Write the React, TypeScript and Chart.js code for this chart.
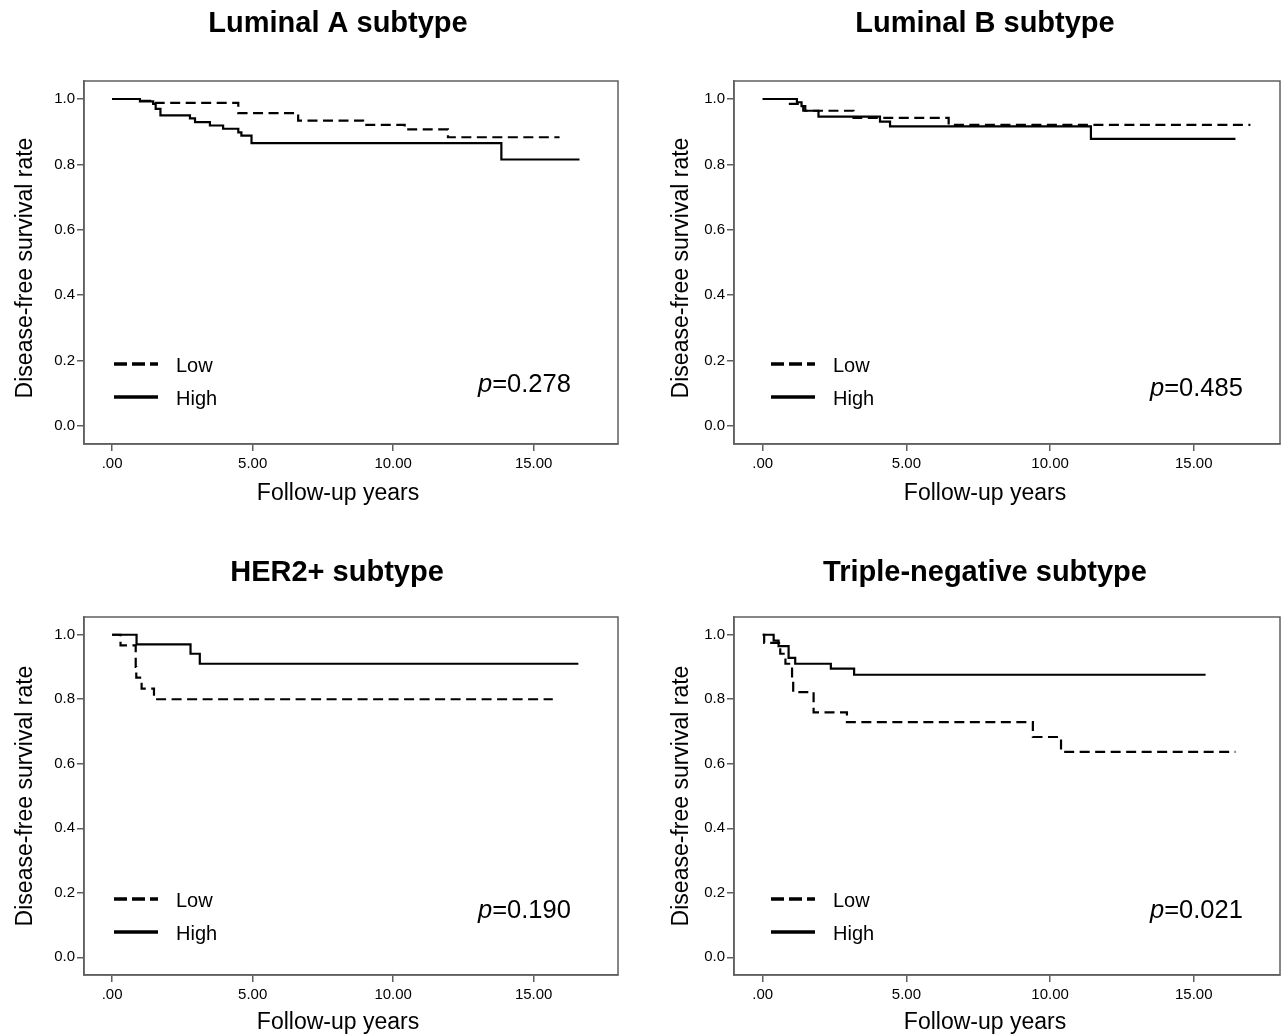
import React, { useEffect, useRef } from "react";
import { Chart, registerables } from "chart.js";

Chart.register(...registerables);

// ---------- data ----------
const xTickValues = [0, 5, 10, 15];
const yTickValues = [0, 0.2, 0.4, 0.6, 0.8, 1.0];
const seriesNames = ["Low", "High"];
const panelTitles = ["Luminal A subtype", "Luminal B subtype", "HER2+ subtype", "Triple-negative subtype"];
const pValues = ["0.278", "0.485", "0.190", "0.021"];
const xAxisTitle = "Follow-up years";
const yAxisTitle = "Disease-free survival rate";

// Luminal A
const lumALowYears = [0, 1.0, 1.46, 4.49, 6.62, 8.93, 10.41, 11.95, 15.92];
const lumALowRate = [1.0, 0.994, 0.988, 0.957, 0.934, 0.921, 0.907, 0.883, 0.883];
const lumAHighYears = [0, 0.99, 1.46, 1.55, 1.72, 2.77, 2.95, 3.48, 3.95, 4.49, 4.6, 4.96, 13.85, 16.63];
const lumAHighRate = [1.0, 0.993, 0.985, 0.97, 0.95, 0.941, 0.929, 0.919, 0.909, 0.898, 0.888, 0.865, 0.815, 0.815];

// Luminal B
const lumBLowYears = [0, 0.9, 1.41, 3.16, 6.47, 16.97];
const lumBLowRate = [1.0, 0.985, 0.964, 0.942, 0.921, 0.921];
const lumBHighYears = [0, 1.19, 1.35, 1.48, 1.94, 4.08, 4.43, 11.42, 16.45];
const lumBHighRate = [1.0, 0.99, 0.978, 0.964, 0.946, 0.931, 0.916, 0.878, 0.878];

// HER2+
const her2LowYears = [0, 0.3, 0.84, 0.86, 1.05, 1.49, 15.68];
const her2LowRate = [1.0, 0.967, 0.9, 0.867, 0.833, 0.8, 0.8];
const her2HighYears = [0, 0.87, 2.79, 3.12, 16.59];
const her2HighRate = [1.0, 0.97, 0.941, 0.91, 0.91];

// Triple-negative
const tnLowYears = [0, 0.05, 0.61, 0.79, 1.02, 1.06, 1.77, 2.93, 9.4, 10.38, 16.45];
const tnLowRate = [1.0, 0.975, 0.941, 0.91, 0.864, 0.822, 0.759, 0.729, 0.683, 0.637, 0.637];
const tnHighYears = [0, 0.38, 0.55, 0.9, 1.13, 2.37, 3.18, 15.41];
const tnHighRate = [1.0, 0.982, 0.965, 0.928, 0.91, 0.895, 0.876, 0.876];

const panelSeries = [
  [lumALowYears, lumALowRate, lumAHighYears, lumAHighRate],
  [lumBLowYears, lumBLowRate, lumBHighYears, lumBHighRate],
  [her2LowYears, her2LowRate, her2HighYears, her2HighRate],
  [tnLowYears, tnLowRate, tnHighYears, tnHighRate],
];

// ---------- layout (page coordinates) ----------
const FONT = '"Liberation Sans", Arial, Helvetica, sans-serif';
const YW = 40;
const XH = 40;
const AXIS_COLOR = "#5f5f5f";

const layouts = [
  { left: 0, top: 0, w: 642, h: 517, al: 84, ar: 618, at: 81, ab: 444, titleX: 338, titleY: 32, yTitleX: 32, yTitleY: 268, xTitleX: 338, xTitleY: 500, legX: 114, legTextX: 176, legLowY: 364, legHighY: 397, pX: 478, pY: 392 },
  { left: 642, top: 0, w: 642, h: 517, al: 734, ar: 1280, at: 81, ab: 444, titleX: 985, titleY: 32, yTitleX: 688, yTitleY: 268, xTitleX: 985, xTitleY: 500, legX: 771, legTextX: 833, legLowY: 364, legHighY: 397, pX: 1150, pY: 396 },
  { left: 0, top: 517, w: 642, h: 518, al: 84, ar: 618, at: 617, ab: 975, titleX: 337, titleY: 581, yTitleX: 32, yTitleY: 796, xTitleX: 338, xTitleY: 1029, legX: 114, legTextX: 176, legLowY: 899, legHighY: 932, pX: 478, pY: 918 },
  { left: 642, top: 517, w: 642, h: 518, al: 734, ar: 1280, at: 617, ab: 975, titleX: 985, titleY: 581, yTitleX: 688, yTitleY: 796, xTitleX: 985, xTitleY: 1029, legX: 771, legTextX: 833, legLowY: 899, legHighY: 932, pX: 1150, pY: 918 },
];

function zip(xs: number[], ys: number[]) {
  return xs.map((x, i) => ({ x, y: ys[i] }));
}

function Panel({ idx }: { idx: number }) {
  const ref = useRef<HTMLCanvasElement | null>(null);
  const L = layouts[idx];

  useEffect(() => {
    if (!ref.current) return;
    const [lowX, lowY, highX, highY] = panelSeries[idx];
    const ox = L.left;
    const oy = L.top;

    const decor = {
      id: "decor" + idx,
      afterDraw(chart: any) {
        const ctx = chart.ctx as CanvasRenderingContext2D;
        const a = chart.chartArea;
        ctx.save();
        ctx.setLineDash([]);
        ctx.strokeStyle = AXIS_COLOR;
        ctx.lineWidth = 1.5;
        ctx.strokeRect(a.left, a.top, a.right - a.left, a.bottom - a.top);

        ctx.fillStyle = "#000";
        ctx.textBaseline = "alphabetic";
        ctx.textAlign = "center";
        ctx.font = `bold 29px ${FONT}`;
        ctx.fillText(panelTitles[idx], L.titleX - ox, L.titleY - oy);

        ctx.font = `23px ${FONT}`;
        ctx.fillText(xAxisTitle, L.xTitleX - ox, L.xTitleY - oy);

        ctx.save();
        ctx.translate(L.yTitleX - ox, L.yTitleY - oy);
        ctx.rotate(-Math.PI / 2);
        ctx.fillText(yAxisTitle, 0, 0);
        ctx.restore();

        const ds = chart.data.datasets;
        const rows: [number, number][] = [[0, L.legLowY], [1, L.legHighY]];
        rows.forEach(([i, y]) => {
          ctx.beginPath();
          ctx.setLineDash(i === 0 ? [13, 5] : []);
          ctx.lineWidth = 3.5;
          ctx.lineCap = "butt";
          ctx.strokeStyle = "#000";
          ctx.moveTo(L.legX - ox, y - oy);
          ctx.lineTo(L.legX + 44 - ox, y - oy);
          ctx.stroke();
          ctx.setLineDash([]);
          ctx.font = `20px ${FONT}`;
          ctx.textAlign = "left";
          ctx.fillText(ds[i].label, L.legTextX - ox, y + 7.5 - oy);
        });

        ctx.textAlign = "left";
        ctx.font = `italic 25.5px ${FONT}`;
        const px = L.pX - ox;
        const py = L.pY - oy;
        ctx.fillText("p", px, py);
        const pw = ctx.measureText("p").width;
        ctx.font = `25.5px ${FONT}`;
        ctx.fillText("=" + pValues[idx], px + pw, py);
        ctx.restore();
      },
    };

    const chart = new Chart(ref.current, {
      type: "line",
      data: {
        datasets: [
          {
            label: seriesNames[0],
            data: zip(lowX, lowY),
            borderColor: "#000",
            borderWidth: 2.2,
            borderDash: [10, 5.5],
            borderCapStyle: "butt",
            borderJoinStyle: "miter",
            stepped: "before",
            pointRadius: 0,
            fill: false,
          },
          {
            label: seriesNames[1],
            data: zip(highX, highY),
            borderColor: "#000",
            borderWidth: 2.2,
            borderCapStyle: "butt",
            borderJoinStyle: "miter",
            stepped: "before",
            pointRadius: 0,
            fill: false,
          },
        ],
      },
      options: {
        responsive: false,
        animation: false,
        events: [],
        layout: {
          padding: {
            left: L.al - L.left - YW,
            right: L.left + L.w - L.ar,
            top: L.at - L.top,
            bottom: L.top + L.h - L.ab - XH,
          },
        },
        plugins: {
          legend: { display: false },
          tooltip: { enabled: false },
          title: { display: false },
        },
        scales: {
          x: {
            type: "linear",
            min: -1,
            max: 18,
            afterBuildTicks: (s: any) => {
              s.ticks = xTickValues.map((v) => ({ value: v }));
            },
            afterFit: (s: any) => {
              s.height = XH;
            },
            grid: { display: true, drawOnChartArea: false, drawTicks: true, tickLength: 7, color: AXIS_COLOR, lineWidth: 1.5 },
            border: { display: true, color: AXIS_COLOR, width: 1.5 },
            ticks: {
              autoSkip: false,
              maxRotation: 0,
              padding: 4,
              color: "#000",
              font: { family: FONT, size: 15 },
              callback: (v: any) => (Number(v) === 0 ? ".00" : Number(v).toFixed(2)),
            },
          },
          y: {
            type: "linear",
            min: -0.055,
            max: 1.055,
            afterBuildTicks: (s: any) => {
              s.ticks = yTickValues.map((v) => ({ value: v }));
            },
            afterFit: (s: any) => {
              s.width = YW;
            },
            grid: { display: true, drawOnChartArea: false, drawTicks: true, tickLength: 7, color: AXIS_COLOR, lineWidth: 1.5 },
            border: { display: true, color: AXIS_COLOR, width: 1.5 },
            ticks: {
              autoSkip: false,
              padding: 2,
              color: "#000",
              font: { family: FONT, size: 15 },
              callback: (v: any) => Number(v).toFixed(1),
            },
          },
        },
      },
      plugins: [decor],
    } as any);

    return () => chart.destroy();
  }, [idx]);

  return (
    <canvas
      ref={ref}
      width={L.w}
      height={L.h}
      style={{ position: "absolute", left: L.left, top: L.top, width: L.w, height: L.h }}
    />
  );
}

export default function App() {
  return (
    <div style={{ position: "absolute", left: 0, top: 0, width: 1284, height: 1035, background: "#fff", overflow: "hidden" }}>
      {[0, 1, 2, 3].map((i) => (
        <Panel key={i} idx={i} />
      ))}
    </div>
  );
}
